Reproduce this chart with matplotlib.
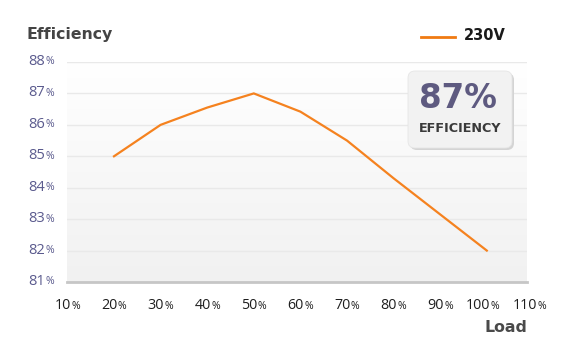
import numpy as np
import matplotlib
matplotlib.use("Agg")
import matplotlib.pyplot as plt
from matplotlib.patches import FancyBboxPatch
from matplotlib.transforms import IdentityTransform
from matplotlib.colors import LinearSegmentedColormap

load = [20, 30, 40, 50, 60, 70, 80, 90, 100]
eff_230v = [85.0, 86.0, 86.55, 87.0, 86.42, 85.5, 84.3, 83.15, 82.0]
x_ticks = [10, 20, 30, 40, 50, 60, 70, 80, 90, 100, 110]
y_ticks = [81, 82, 83, 84, 85, 86, 87, 88]
series_name = "230V"
peak_label = "87%"

FONT = "Open Sans"
BOLD = "DejaVu Sans"
W, H = 568, 351
fig = plt.figure(figsize=(W / 100, H / 100), dpi=100)
fig.patch.set_facecolor("white")

L, R, T, B = 67.4, 527, 62, 282
ax = fig.add_axes([L / W, 1 - B / H, (R - L) / W, (B - T) / H])
xmin = 10
xmax = 10 + (R - L) / 4.66
ax.set_xlim(xmin, xmax)
ax.set_ylim(81, 88)

# gradient background
grad = np.linspace(0, 1, 256).reshape(-1, 1)
cm = LinearSegmentedColormap.from_list("g", ["#f1f1f1", "#ffffff"])
ax.imshow(grad, extent=[xmin, xmax, 81, 88], aspect="auto", cmap=cm,
          origin="lower", zorder=0, vmin=0, vmax=1)

for y in y_ticks[1:]:
    ax.axhline(y, color="#e9e9e9", lw=1, zorder=1)
ax.axhline(81, color="#c6c6c6", lw=2, zorder=3, clip_on=False)

ax.plot(load, eff_230v, color="#f5821f", lw=1.6, zorder=4, solid_joinstyle="miter")

for s in ax.spines.values():
    s.set_visible(False)
ax.set_xticks([])
ax.set_yticks([])

# y tick labels
for y in y_ticks:
    ax.annotate("%", xy=(0, y), xycoords=("axes fraction", "data"),
                xytext=(-9.5, 0), textcoords="offset points", ha="right", va="center",
                fontsize=7.5, color="#5b5b8e", family=FONT, annotation_clip=False)
    ax.annotate(f"{y}", xy=(0, y), xycoords=("axes fraction", "data"),
                xytext=(-16, 0.4), textcoords="offset points", ha="right", va="center",
                fontsize=10.5, color="#5b5b8e", family=FONT, annotation_clip=False)

# x tick labels
for x in x_ticks:
    ax.annotate(f"{x}", xy=(x, 81), xycoords=("data", "data"),
                xytext=(2.5, -17), textcoords="offset points", ha="right", va="center",
                fontsize=10.3, color="#1e1e1e", family=FONT, annotation_clip=False)
    ax.annotate("%", xy=(x, 81), xycoords=("data", "data"),
                xytext=(2.8, -17.4), textcoords="offset points", ha="left", va="center",
                fontsize=7.5, color="#1e1e1e", family=FONT, annotation_clip=False)

# titles
fig.text(26 / W, 1 - 34 / H, "Efficiency", ha="left", va="center", fontsize=11.3,
         fontweight="bold", color="#444444", family=BOLD)
fig.text(527 / W, 1 - 327 / H, "Load", ha="right", va="center", fontsize=11.3,
         fontweight="bold", color="#4a4a4a", family=BOLD)

# legend
fig.add_artist(plt.Line2D([421 / W, 455 / W], [1 - 37 / H, 1 - 37 / H], color="#f07a12", lw=2))
fig.text(464 / W, 1 - 36 / H, series_name, ha="left", va="center", fontsize=10.5,
         fontweight="bold", color="#1a1a1a", family=BOLD)

# info box (pixel coordinates, origin bottom-left)
bx0, by0, bx1, by1 = 408, 71, 512, 148
bw, bh = bx1 - bx0, by1 - by0
shadow = FancyBboxPatch((bx0 + 2, H - by1 - 2), bw, bh,
                        boxstyle="round,pad=0,rounding_size=7", transform=IdentityTransform(),
                        facecolor="#d4d4d4", edgecolor="none", zorder=5)
box = FancyBboxPatch((bx0, H - by1), bw, bh,
                     boxstyle="round,pad=0,rounding_size=7", transform=IdentityTransform(),
                     facecolor="#f2f2f2", edgecolor="#e6e6e6", lw=0.6, zorder=6)
fig.add_artist(shadow)
fig.add_artist(box)
fig.text(457.5 / W, 1 - 98 / H, peak_label, ha="center", va="center", fontsize=23.5,
         fontweight="bold", color="#5e5a80", family=BOLD, zorder=7)
fig.text(460 / W, 1 - 129 / H, "EFFICIENCY", ha="center", va="center", fontsize=9.2,
         fontweight="bold", color="#3a3a3a", family=BOLD, zorder=7)

fig.savefig("out.png", dpi=100, facecolor="white")
